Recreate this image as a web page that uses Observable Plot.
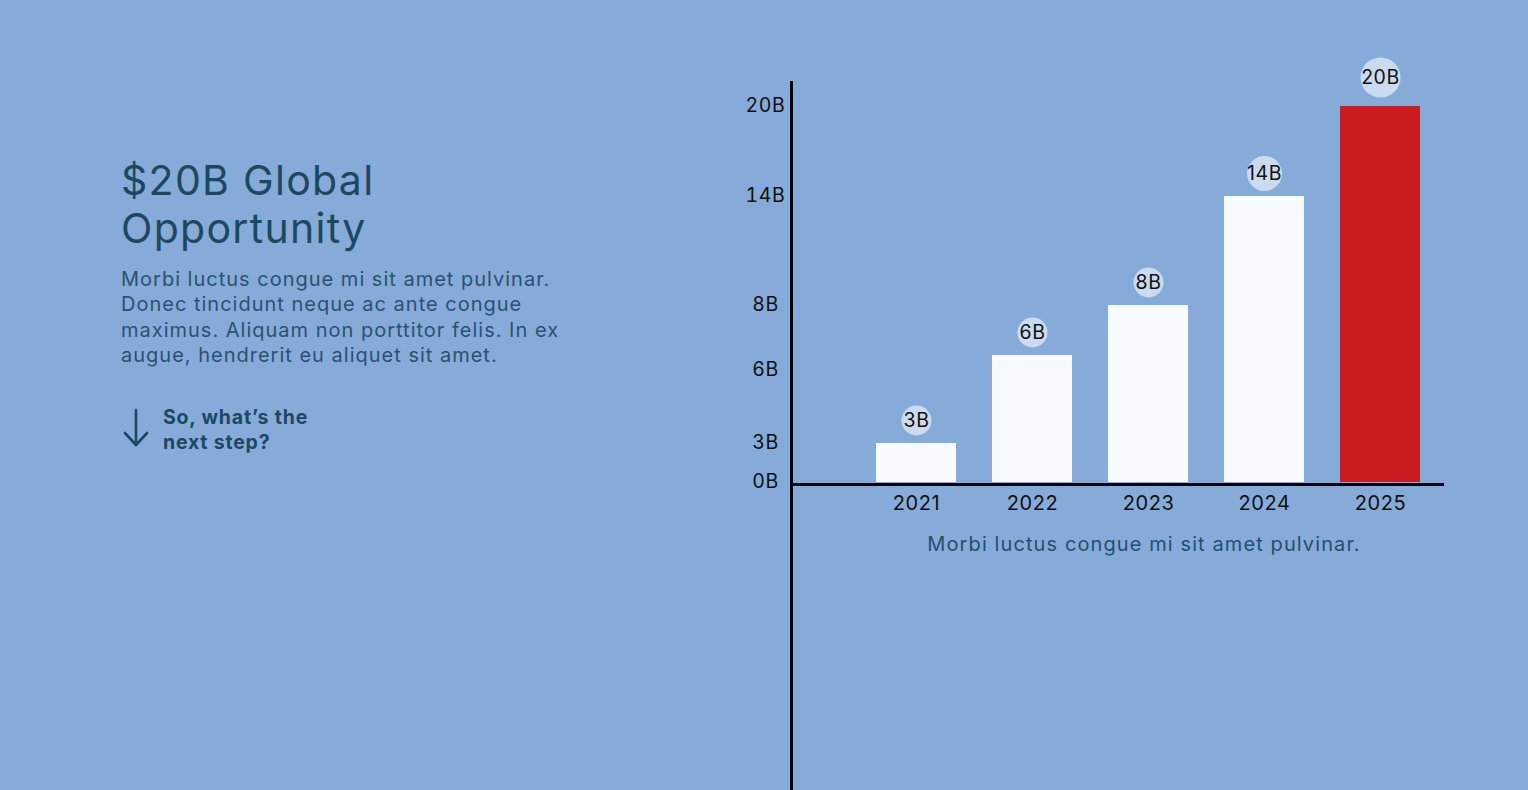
<!DOCTYPE html>
<html>
<head>
<meta charset="utf-8">
<script src="https://cdn.jsdelivr.net/npm/d3@7"></script>
<script src="https://cdn.jsdelivr.net/npm/@observablehq/plot@0.6"></script>
<style>
  html, body { margin: 0; padding: 0; }
  body { width: 1528px; height: 790px; background: #86abd8; position: relative; overflow: hidden; font-family: Inter, "Open Sans", sans-serif; }
  #chart { position: absolute; left: 0; top: 0; }
  .title { position: absolute; left: 121px; top: 156px; font-size: 41px; line-height: 48px; color: #1c4862; font-weight: 400; letter-spacing: 1.3px; }
  .para { position: absolute; left: 121px; top: 267px; font-size: 20px; line-height: 25.3px; color: #2a5173; letter-spacing: 1px; }
  .next { position: absolute; left: 163px; top: 405px; font-size: 19.5px; line-height: 25px; color: #1c4862; font-weight: 700; letter-spacing: 0.8px; }
  .arrow { position: absolute; left: 120px; top: 406px; }
  .caption { position: absolute; left: 894px; width: 500px; top: 532px; text-align: center; font-size: 20px; color: #234f70; letter-spacing: 1.1px; }
</style>
</head>
<body>
<div class="title">$20B Global<br>Opportunity</div>
<div class="para">Morbi luctus congue mi sit amet pulvinar.<br>Donec tincidunt neque ac ante congue<br>maximus. Aliquam non porttitor felis. In ex<br>augue, hendrerit eu aliquet sit amet.</div>
<svg class="arrow" width="34" height="44" viewBox="0 0 34 44"><path d="M16 4 V39 M5 27 L16 39 L27 27" fill="none" stroke="#1c4862" stroke-width="2.6" stroke-linecap="round" stroke-linejoin="round"/></svg>
<div class="next">So, what’s the<br>next step?</div>
<div id="chart"></div>
<div class="caption">Morbi luctus congue mi sit amet pulvinar.</div>
<script>
const years = ["2021", "2022", "2023", "2024", "2025"];
const values = [3, 6, 8, 14, 20];
const yTicks = [0, 3, 6, 8, 14, 20];
const highlight = ["2025"];

const data = years.map((year, i) => ({year, value: values[i]}));
const fmt = d => d + "B";
const isHi = d => highlight.includes(d.year);

const chart = Plot.plot({
  width: 1528,
  height: 790,
  marginLeft: 791,
  marginRight: 84,
  marginTop: 82,
  marginBottom: 0,
  style: {background: "transparent", fontFamily: "Inter, 'Open Sans', sans-serif", fontSize: "19.5px", color: "#111", letterSpacing: "0.6px"},
  x: {type: "band", domain: years, range: [838, 1457], padding: 0.313, axis: null},
  y: {type: "linear", domain: yTicks, range: [482, 443, 355, 305, 196, 106], axis: null},
  r: {type: "linear", domain: [8, 20], range: [15, 20], clamp: true},
  marks: [
    Plot.barY(data, {x: "year", y: "value", fill: d => isHi(d) ? "#cb1d21" : "#f8fbff"}),
    Plot.ruleY([0], {stroke: "#000", strokeWidth: 3, dy: 2}),
    Plot.frame({anchor: "left", stroke: "#000", strokeWidth: 3}),
    Plot.axisY(yTicks.filter(t => t !== 6), {anchor: "left", label: null, tickSize: 0, tickPadding: 26, textAnchor: "middle", tickFormat: fmt, fill: "#111", dy: -1, fontSize: 19.5}),
    Plot.axisY([6], {anchor: "left", label: null, tickSize: 0, tickPadding: 26, textAnchor: "middle", tickFormat: fmt, fill: "#111", dy: 14, fontSize: 19.5}),
    Plot.text(data, {x: "year", y: () => 0, text: "year", lineAnchor: "top", dy: 13, fill: "#111", fontSize: 20, letterSpacing: "1.2px"}),
    Plot.dot(data.filter(d => !isHi(d)), {x: "year", y: "value", r: "value", dy: -23, fill: "#d3e0f2", fillOpacity: 0.9, stroke: "none"}),
    Plot.text(data.filter(d => !isHi(d)), {x: "year", y: "value", text: d => fmt(d.value), dy: -23, fill: "#111", fontSize: 19.5}),
    Plot.dot(data.filter(isHi), {x: "year", y: "value", r: "value", dy: -29, fill: "#d3e0f2", fillOpacity: 0.9, stroke: "none"}),
    Plot.text(data.filter(isHi), {x: "year", y: "value", text: d => fmt(d.value), dy: -29, fill: "#111", fontSize: 19.5})
  ]
});
document.getElementById("chart").append(chart);
</script>
</body>
</html>
